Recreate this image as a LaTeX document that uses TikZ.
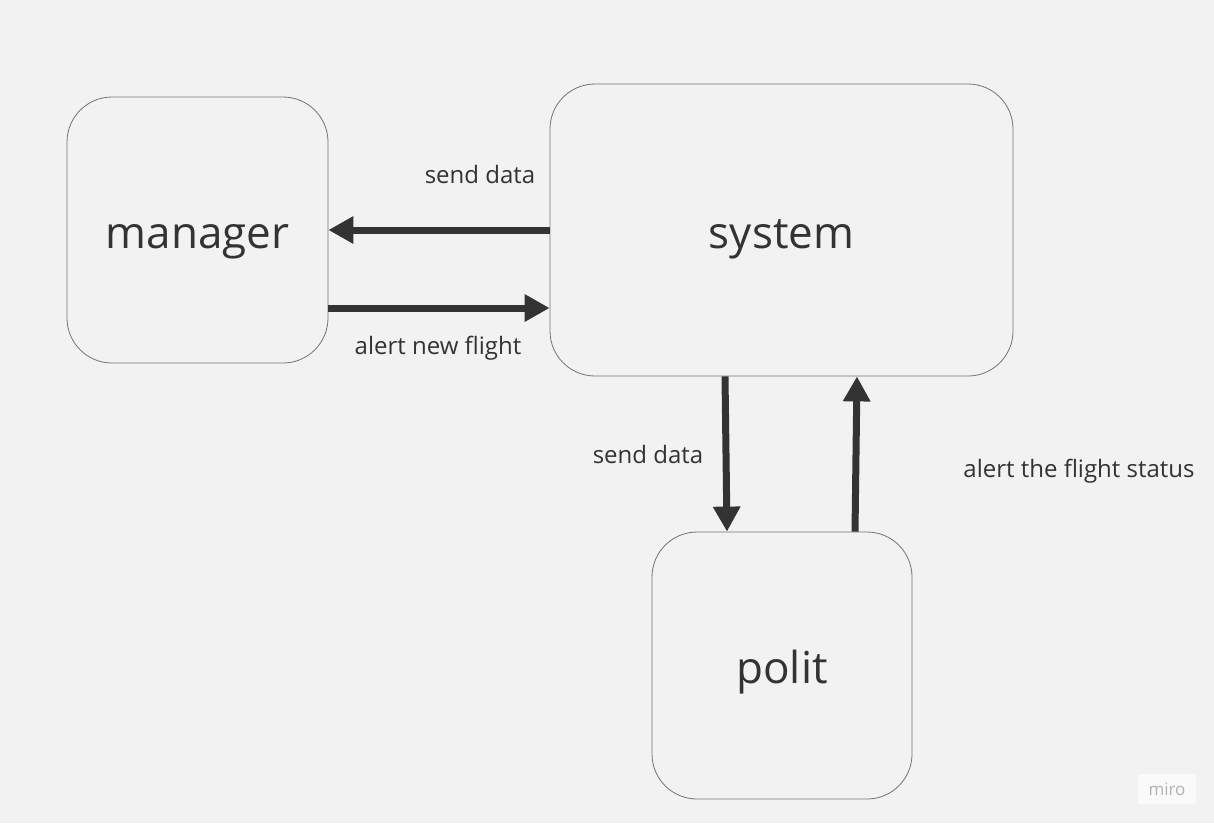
\documentclass[tikz,border=0pt]{standalone}
\usepackage{fontspec}
\setmainfont{Open Sans}
\usetikzlibrary{arrows.meta}
\definecolor{bgc}{HTML}{F2F2F2}
\definecolor{ink}{HTML}{333333}
\begin{document}
\begin{tikzpicture}[x=1pt,y=-1pt,
	box/.style={draw=black!55, line width=0.8pt, fill=bgc, rounded corners=45pt, text=ink, text height=38pt, text depth=2pt, font=\fontsize{44}{52}\selectfont},
	flow/.style={draw=ink, line width=7pt, -{Triangle[length=25pt,width=26pt]}},
	lbl/.style={text=ink, font=\fontsize{24}{28}\selectfont}]
	\fill[bgc] (0,0) rectangle (1214,823);
	\node[box, minimum width=261pt, minimum height=266pt] (manager) at (197.5,230) {manager};
	\node[box, minimum width=463pt, minimum height=292pt] (system) at (781.5,230) {system};
	\node[box, minimum width=260pt, minimum height=267pt] (polit) at (782,665.5) {polit};
	\draw[flow] (system.west) -- (manager.east);
	\draw[flow] ([yshift=-78pt]manager.east) -- ([yshift=-78pt]system.west);
	\draw[flow] ([xshift=-56.5pt]system.south) -- ([xshift=-55pt]polit.north);
	\draw[flow] ([xshift=73pt]polit.north) -- ([xshift=75.5pt]system.south);
	\node[lbl] (senda) at (480,174) {send data};
	\node[lbl] (alertb) at (438,348) {alert new flight};
	\node[lbl] (sendc) at (648,454) {send data};
	\node[lbl] (alertd) at (1079,471) {alert the flight status};
	\node[fill=black!2, rounded corners=3pt, minimum width=58pt, minimum height=30pt, text=black!30, font=\fontsize{17}{20}\selectfont] (miro) at (1167,789) {miro};
\end{tikzpicture}
\end{document}
